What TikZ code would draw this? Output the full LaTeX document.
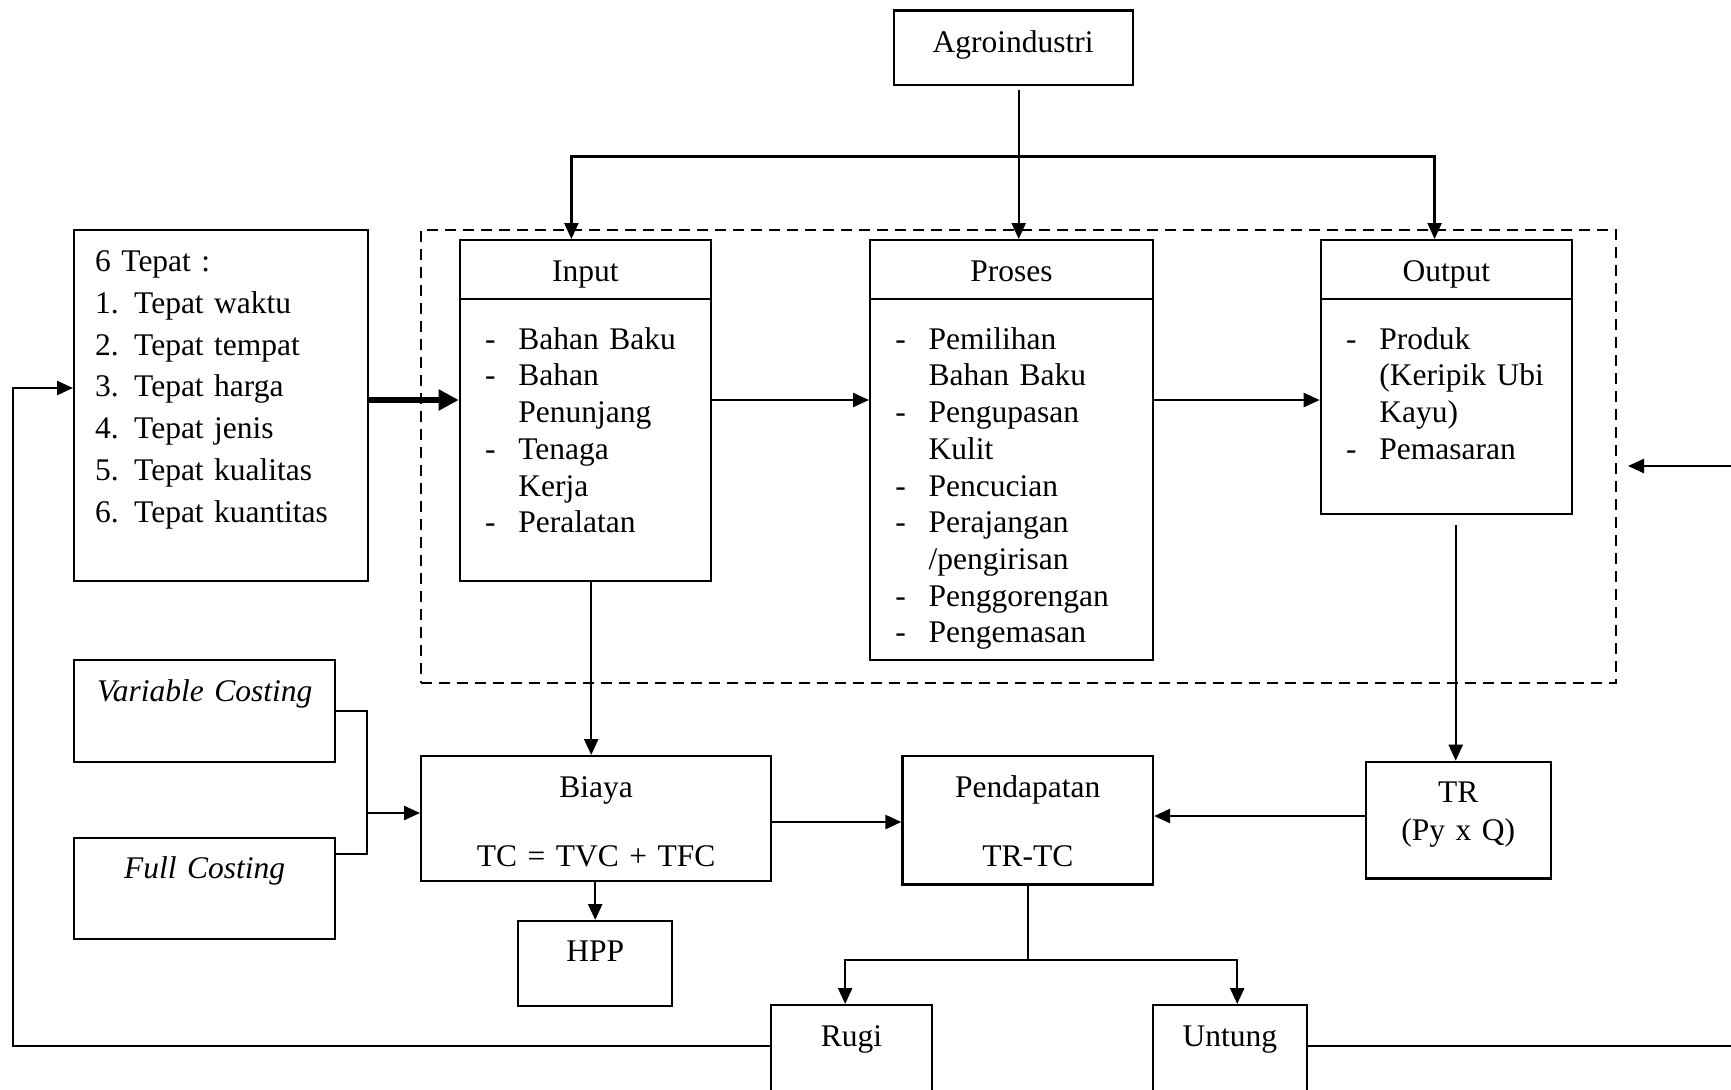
\documentclass[tikz,border=0pt]{standalone}
\usepackage{fontspec}
\setmainfont{Liberation Serif}
\usetikzlibrary{arrows.meta,calc}
\newcommand\litem[1]{\hspace*{12.6pt}\makebox[16.65pt][l]{-}#1}
\newcommand\lcont[1]{\hspace*{29.25pt}#1}
\newcommand\tnum[2]{\hspace*{10.5pt}\makebox[19.5pt][l]{#1}#2}
\begin{document}
\begin{tikzpicture}[x=0.5pt,y=-0.5pt,
  box/.style={draw,line width=1.2pt,inner sep=0pt,anchor=north west,align=center,
    font=\fontsize{15.75pt}{18.35pt}\selectfont},
  listbox/.style={box,align=left},
  ln/.style={line width=1.2pt},
  thinln/.style={line width=0.8pt},
  arr/.style={line width=1.2pt,-{Triangle[length=8pt,width=7pt]}},
  bigarr/.style={line width=3.2pt,-{Triangle[length=10pt,width=10pt]}},
  sysbox/.style={draw,line width=0.9pt,dash pattern=on 5.5pt off 3.5pt,inner sep=0pt,anchor=north west}]
\clip (0,0) rectangle (1731,1089);
\fill[white] (0,0) rectangle (1731,1089);

% level coordinates
\coordinate (y400) at (0,400);
\coordinate (y711) at (0,711);
\coordinate (y854) at (0,854);
\coordinate (y816) at (0,816);
\coordinate (y822) at (0,822);
\coordinate (y1046) at (0,1046);
\coordinate (y388) at (0,388);
\coordinate (br) at (367,813);
\coordinate (offR) at (1760,0);
\coordinate (tipR) at (1628,466);
\coordinate (farL) at (13,0);

% dashed system box
\node[sysbox,minimum width=597.5pt,minimum height=226.5pt] (sys) at (420,229) {};

% top
\node[box,text width=119.5pt,text height=21.2pt,text depth=16.15pt] (agro) at (892.5,9.3) {Agroindustri};

% 6 Tepat
\node[listbox,text width=147pt,text height=20.5pt,text depth=155pt,
  font=\fontsize{15.75pt}{20.95pt}\selectfont] (tepat) at (73,229)
  {\hspace*{10.5pt}6 Tepat :\\
   \tnum{1.}{Tepat waktu}\\
   \tnum{2.}{Tepat tempat}\\
   \tnum{3.}{Tepat harga}\\
   \tnum{4.}{Tepat jenis}\\
   \tnum{5.}{Tepat kualitas}\\
   \tnum{6.}{Tepat kuantitas}};

% Input
\node[box,text width=125.5pt,text height=20.5pt,text depth=9pt] (inhead) at (458.7,239) {Input};
\node[listbox,text width=125.5pt,text height=25pt,text depth=116pt] (inbody) at (458.7,298)
  {\litem{Bahan Baku}\\
   \litem{Bahan}\\
   \lcont{Penunjang}\\
   \litem{Tenaga}\\
   \lcont{Kerja}\\
   \litem{Peralatan}};

% Proses
\node[box,text width=141.25pt,text height=20.5pt,text depth=9pt] (prhead) at (869,239) {Proses};
\node[listbox,text width=141.25pt,text height=25pt,text depth=155.5pt] (prbody) at (869,298)
  {\litem{Pemilihan}\\
   \lcont{Bahan Baku}\\
   \litem{Pengupasan}\\
   \lcont{Kulit}\\
   \litem{Pencucian}\\
   \litem{Perajangan}\\
   \lcont{/pengirisan}\\
   \litem{Penggorengan}\\
   \litem{Pengemasan}};

% Output
\node[box,text width=125.4pt,text height=20.5pt,text depth=9pt] (ouhead) at (1319.7,239) {Output};
\node[listbox,text width=125.4pt,text height=25pt,text depth=82.5pt] (oubody) at (1319.7,298)
  {\litem{Produk}\\
   \lcont{(Keripik Ubi}\\
   \lcont{Kayu)}\\
   \litem{Pemasaran}};

% costing
\node[box,text width=130.5pt,text height=20.5pt,text depth=30.5pt] (vc) at (73,659) {\textit{Variable Costing}};
\node[box,text width=130.5pt,text height=20pt,text depth=30.5pt] (fc) at (73,837) {\textit{Full Costing}};

% lower row
\node[box,text width=175pt,text height=20.5pt,text depth=42pt,
  font=\fontsize{15.75pt}{34.5pt}\selectfont] (biaya) at (420,755) {Biaya\\TC = TVC + TFC};
\node[box,text width=125.15pt,text height=20.5pt,text depth=43.65pt,
  font=\fontsize{15.75pt}{34.5pt}\selectfont] (pend) at (901.4,755) {Pendapatan\\TR-TC};
\node[box,text width=92.6pt,text height=20.15pt,text depth=38.15pt,
  font=\fontsize{15.75pt}{19pt}\selectfont] (tr) at (1364.5,760.7) {TR\\(Py x Q)};
\node[box,text width=77pt,text height=20.35pt,text depth=22.15pt] (hpp) at (517,920) {HPP};
\node[box,text width=80.35pt,text height=20.75pt,text depth=30pt] (rugi) at (770,1004) {Rugi};
\node[box,text width=77pt,text height=20.75pt,text depth=30pt] (untung) at (1151.7,1004) {Untung};

% Agroindustri distribution
\draw[thinln] ([xshift=2.75pt,yshift=-2pt]agro.south) -- ++(0,66) coordinate (j);
\draw[arr] (j) -| ([xshift=-7pt]inhead.north);
\draw[arr] (j) -- (j |- prhead.north);
\draw[arr] (j) -| ([xshift=-5.85pt]ouhead.north);

% flow
\draw[bigarr] (tepat.east |- y400) -- (inbody.west |- y400);
\draw[arr] (inbody.east |- y400) -- (prbody.west |- y400);
\draw[arr] (prbody.east |- y400) -- (oubody.west |- y400);

% to Biaya and TR
\draw[arr] ([xshift=2.9pt]inbody.south) coordinate (a1) -- (a1 |- biaya.north);
\draw[arr] ([xshift=4.7pt,yshift=-5pt]oubody.south) coordinate (a2) -- (a2 |- tr.north);

% costing bracket
\draw[ln] (vc.east |- y711) -| (br) |- (fc.east |- y854);
\draw[arr] (br) -- (biaya.west |- br);

% biaya / pendapatan
\draw[arr] (biaya.east |- y822) -- (pend.west |- y822);
\draw[arr] (tr.west |- y816) -- (pend.east |- y816);
\draw[arr] (biaya.south -| hpp.north) -- (hpp.north);

% pendapatan split
\draw[thinln] (pend.south) -- ++(0,74.5) coordinate (k);
\draw[arr] (k) -| ([xshift=-3.2pt]rugi.north);
\draw[arr] (k) -| ([xshift=3.65pt]untung.north);

% feedback loops
\draw[arr] (rugi.west |- y1046) -| (farL |- y388) -- (tepat.west |- y388);
\draw[arr] (untung.east |- y1046) -| (offR |- tipR) -- (tipR);
\end{tikzpicture}
\end{document}
